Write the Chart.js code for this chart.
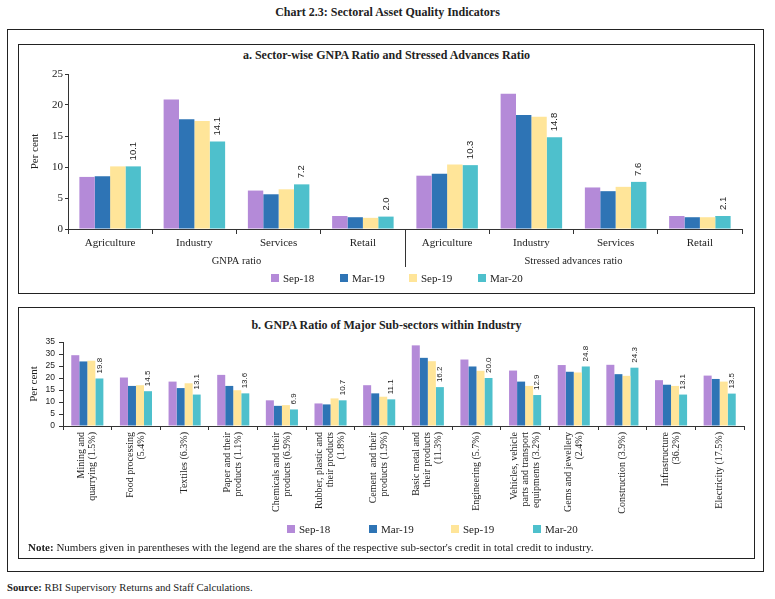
<!DOCTYPE html>
<html><head><meta charset="utf-8">
<script src="https://cdn.jsdelivr.net/npm/chart.js@4.4.0/dist/chart.umd.min.js"></script>
<style>
body{margin:0;width:775px;height:599px;background:#fff;position:relative;font-family:"Liberation Serif",serif;color:#222;overflow:hidden}
.abs{position:absolute}
.box{position:absolute;border:1.5px solid #222;box-sizing:border-box}
#title{top:5px;left:0;width:775px;text-align:center;font-weight:bold;font-size:12px}
#outer{left:7px;top:29px;width:757px;height:543px}
#boxA{left:18px;top:44px;width:737px;height:250px}
#boxB{left:18px;top:307px;width:737px;height:252px}
.ptitle{left:18px;width:737px;text-align:center;font-weight:bold;font-size:12px}
.legend{display:flex;font-size:11px;line-height:12px}
.legend .it{display:flex;align-items:center}
.legend .sw{width:8px;height:8px;margin-right:4px}
#note{left:28px;top:541px;font-size:11px}
#source{left:7px;top:581px;font-size:10.7px}
canvas{position:absolute}
</style></head>
<body>
<div id="title" class="abs">Chart 2.3: Sectoral Asset Quality Indicators</div>
<div id="outer" class="box"></div>
<div id="boxA" class="box"></div>
<div id="boxB" class="box"></div>
<div class="abs ptitle" style="top:48px">a. Sector-wise GNPA Ratio and Stressed Advances Ratio</div>
<div class="abs ptitle" style="top:318px">b. GNPA Ratio of Major Sub-sectors within Industry</div>
<canvas id="cA" width="737" height="212" style="left:18px;top:62px"></canvas>
<canvas id="cB" width="737" height="195" style="left:18px;top:330px"></canvas>
<div id="legA" class="abs legend" style="left:271px;top:272px"></div>
<div id="legB" class="abs legend" style="left:287px;top:523px"></div>
<div id="note" class="abs"><b>Note:</b> Numbers given in parentheses with the legend are the shares of the respective sub-sector's credit in total credit to industry.</div>
<div id="source" class="abs"><b>Source:</b> RBI Supervisory Returns and Staff Calculations.</div>
<script>
// ---- Data ----
const seriesNames = ["Sep-18", "Mar-19", "Sep-19", "Mar-20"];
const seriesColors = ["#B48AD8", "#2E74B5", "#FFE599", "#4EC0CC"];

const sectorCategories = ["Agriculture", "Industry", "Services", "Retail", "Agriculture", "Industry", "Services", "Retail"];
const sectorGroups = ["GNPA ratio", "Stressed advances ratio"];
const sectorSep18 = [8.4, 20.9, 6.2, 2.1, 8.6, 21.8, 6.7, 2.1];
const sectorMar19 = [8.5, 17.7, 5.6, 1.9, 8.9, 18.4, 6.1, 1.9];
const sectorSep19 = [10.1, 17.4, 6.4, 1.8, 10.4, 18.1, 6.8, 1.9];
const sectorMar20 = [10.1, 14.1, 7.2, 2.0, 10.3, 14.8, 7.6, 2.1];
const sectorTicks = [0, 5, 10, 15, 20, 25];

const industryCategories = [
  ["Mining and", "quarrying (1.5%)"],
  ["Food processing", "(5.4%)"],
  ["Textiles (6.3%)"],
  ["Paper and their", "products (1.1%)"],
  ["Chemicals and their", "products (6.9%)"],
  ["Rubber, plastic and", "their products", "(1.8%)"],
  ["Cement  and their", "products (1.9%)"],
  ["Basic metal and", "their products", "(11.3%)"],
  ["Engineering (5.7%)"],
  ["Vehicles, vehicle", "parts and transport", "equipments (3.2%)"],
  ["Gems and jewellery", "(2.4%)"],
  ["Construction (3.9%)"],
  ["Infrastructure", "(36.2%)"],
  ["Electricity (17.5%)"]
];
const industrySep18 = [29.5, 20.2, 18.5, 21.3, 10.7, 9.4, 17.0, 33.6, 27.7, 23.1, 25.4, 25.5, 19.1, 21.0];
const industryMar19 = [26.9, 16.7, 15.8, 16.7, 8.4, 9.0, 13.6, 28.4, 24.8, 18.5, 22.6, 21.6, 17.2, 19.6];
const industrySep19 = [27.2, 17.0, 17.8, 14.9, 8.7, 11.5, 12.2, 27.0, 23.0, 16.7, 22.3, 20.9, 16.7, 18.5];
const industryMar20 = [19.8, 14.5, 13.1, 13.6, 6.9, 10.7, 11.1, 16.2, 20.0, 12.9, 24.8, 24.3, 13.1, 13.5];
const industryTicks = [0, 5, 10, 15, 20, 25, 30, 35];

// ---- Helpers ----
const AX = '#333';
function datasets(arrs){
  return arrs.map((d,i)=>({label:seriesNames[i], data:d, backgroundColor:seriesColors[i], borderWidth:0}));
}
function buildLegend(id, width){
  const el = document.getElementById(id);
  seriesNames.forEach((n,i)=>{
    const it = document.createElement('div'); it.className='it'; it.style.width=width+'px';
    it.innerHTML = '<span class="sw" style="background:'+seriesColors[i]+'"></span><span>'+n+'</span>';
    el.appendChild(it);
  });
}
buildLegend('legA', 69);
buildLegend('legB', 82);

function valueLabels(fontSize, gap){
  return {id:'valueLabels', afterDatasetsDraw(chart){
    const di = chart.data.datasets.length-1;
    const meta = chart.getDatasetMeta(di);
    const ctx = chart.ctx;
    ctx.save();
    ctx.font = fontSize+'px "Liberation Sans"';
    ctx.fillStyle = '#222'; ctx.textAlign='left'; ctx.textBaseline='middle';
    meta.data.forEach((bar,i)=>{
      const v = chart.data.datasets[di].data[i];
      ctx.save(); ctx.translate(bar.x, bar.y-gap); ctx.rotate(-Math.PI/2);
      ctx.fillText(v.toFixed(1),0,0); ctx.restore();
    });
    ctx.restore();
  }};
}

const groupPlugin = {id:'groups', afterDraw(chart){
  const x = chart.scales.x, ctx = chart.ctx;
  const half = sectorCategories.length/2;
  ctx.save();
  const divX = Math.round((x.getPixelForValue(half-1)+x.getPixelForValue(half))/2)+0.5;
  ctx.strokeStyle=AX; ctx.lineWidth=1;
  ctx.beginPath(); ctx.moveTo(divX, x.top); ctx.lineTo(divX, x.top+38); ctx.stroke();
  ctx.font='10.5px "Liberation Serif"'; ctx.fillStyle='#222'; ctx.textAlign='center'; ctx.textBaseline='middle';
  sectorGroups.forEach((g,k)=>{
    const c = (x.getPixelForValue(k*half)+x.getPixelForValue(k*half+half-1))/2;
    ctx.fillText(g, c, x.top+32);
  });
  ctx.restore();
}};

const rotLabels = {id:'rotLabels', afterDraw(chart){
  const x = chart.scales.x, ctx = chart.ctx;
  ctx.save();
  ctx.font='10px "Liberation Serif"'; ctx.fillStyle='#222'; ctx.textAlign='right'; ctx.textBaseline='middle';
  const lh = 11;
  industryCategories.forEach((lines,i)=>{
    const px = x.getPixelForValue(i);
    const n = lines.length;
    lines.forEach((ln,j)=>{
      ctx.save(); ctx.translate(px + (j-(n-1)/2)*lh, x.top+6); ctx.rotate(-Math.PI/2);
      ctx.fillText(ln,0,0); ctx.restore();
    });
  });
  ctx.restore();
}};

// ---- Chart A ----
new Chart(document.getElementById('cA'), {
  type:'bar',
  data:{labels:sectorCategories, datasets:datasets([sectorSep18, sectorMar19, sectorSep19, sectorMar20])},
  options:{
    responsive:false, animation:false, devicePixelRatio:1,
    layout:{padding:{left:0,right:13,top:12,bottom:0}},
    datasets:{bar:{categoryPercentage:0.73, barPercentage:1.0}},
    plugins:{legend:{display:false}, tooltip:{enabled:false}},
    scales:{
      x:{afterFit:s=>{s.height=45;},
         grid:{drawOnChartArea:false, drawTicks:true, tickLength:5, color:AX, offset:true},
         border:{color:AX},
         ticks:{font:{family:'"Liberation Serif"', size:11}, color:'#222', padding:3, maxRotation:0, autoSkip:false}},
      y:{min:0, max:25, afterFit:s=>{s.width=50;},
         afterBuildTicks:s=>{s.ticks=sectorTicks.map(v=>({value:v}));},
         grid:{drawOnChartArea:false, drawTicks:true, tickLength:3, color:AX},
         border:{color:AX},
         ticks:{font:{family:'"Liberation Serif"', size:11}, color:'#222', padding:2, autoSkip:false},
         title:{display:true, text:'Per cent', font:{family:'"Liberation Serif"', size:11}, color:'#222', padding:{top:11,bottom:0}}}
    }
  },
  plugins:[valueLabels(9.5,6), groupPlugin]
});

// ---- Chart B ----
new Chart(document.getElementById('cB'), {
  type:'bar',
  data:{labels:industryCategories.map(l=>l.join(' ')), datasets:datasets([industrySep18, industryMar19, industrySep19, industryMar20])},
  options:{
    responsive:false, animation:false, devicePixelRatio:1,
    layout:{padding:{left:0,right:11,top:12,bottom:0}},
    datasets:{bar:{categoryPercentage:0.66, barPercentage:1.0}},
    plugins:{legend:{display:false}, tooltip:{enabled:false}},
    scales:{
      x:{afterFit:s=>{s.height=99;},
         grid:{drawOnChartArea:false, drawTicks:true, tickLength:4, color:AX, offset:true},
         border:{color:AX},
         ticks:{display:false}},
      y:{min:0, max:35, afterFit:s=>{s.width=45;},
         afterBuildTicks:s=>{s.ticks=industryTicks.map(v=>({value:v}));},
         grid:{drawOnChartArea:false, drawTicks:true, tickLength:4, color:AX},
         border:{color:AX},
         ticks:{font:{family:'"Liberation Sans"', size:8.5}, color:'#222', padding:4, autoSkip:false},
         title:{display:true, text:'Per cent', font:{family:'"Liberation Serif"', size:11}, color:'#222', padding:{top:10,bottom:0}}}
    }
  },
  plugins:[valueLabels(8,5), rotLabels]
});
</script>
</body></html>
